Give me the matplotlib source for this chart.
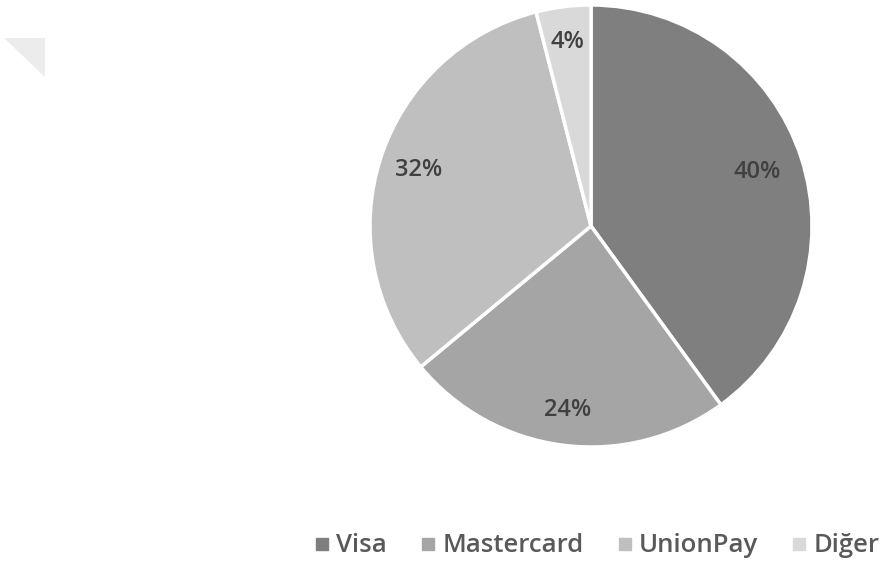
import matplotlib
matplotlib.use("Agg")
import matplotlib.pyplot as plt
from matplotlib.patches import Polygon
from matplotlib.lines import Line2D
import numpy as np

categories = ["Visa", "Mastercard", "UnionPay", "Diğer"]
values = [40, 24, 32, 4]
colors = ["#7f7f7f", "#a5a5a5", "#bfbfbf", "#d9d9d9"]
label_dist = [0.79, 0.84, 0.82, 0.84]

plt.rcParams['font.family'] = ['Open Sans', 'DejaVu Sans']

W, H = 884, 564
fig = plt.figure(figsize=(W / 100, H / 100), dpi=100)
fig.patch.set_facecolor("white")

# decorative triangle top-left
tri = Polygon([(4 / W, 1 - 38 / H), (45 / W, 1 - 38 / H), (45 / W, 1 - 77 / H)],
              closed=True, transform=fig.transFigure, facecolor="#ececec",
              edgecolor="none")
fig.patches.append(tri)

cx, cy, r = 591, 226, 221
ax = fig.add_axes([(cx - r) / W, (H - cy - r) / H, 2 * r / W, 2 * r / H])
wedges, texts, autotexts = ax.pie(
    values, colors=colors, startangle=90, counterclock=False,
    autopct=lambda p: f"{p:.0f}%", pctdistance=0.83,
    wedgeprops=dict(edgecolor="white", linewidth=2.5),
    textprops=dict(color="#404040", fontsize=17, fontweight="semibold"))
for w, t, d in zip(wedges, autotexts, label_dist):
    ang = np.deg2rad((w.theta1 + w.theta2) / 2)
    t.set_position((d * np.cos(ang), d * np.sin(ang)))
ax.set_xlim(-1, 1)
ax.set_ylim(-1, 1)
ax.set_aspect("equal")
ax.axis("off")

handles = [Line2D([0], [0], marker="s", linestyle="none", markersize=9,
                  markerfacecolor=c, markeredgecolor=c) for c in colors]
fig.legend(handles, categories, loc="center", bbox_to_anchor=(597 / W, 1 - 546 / H),
           ncol=4, frameon=False, handlelength=0.6, handletextpad=0.25,
           columnspacing=1.3, labelcolor="#595959",
           prop=dict(size=18.5, weight="semibold"))

fig.savefig("out.png", dpi=100, facecolor="white")
